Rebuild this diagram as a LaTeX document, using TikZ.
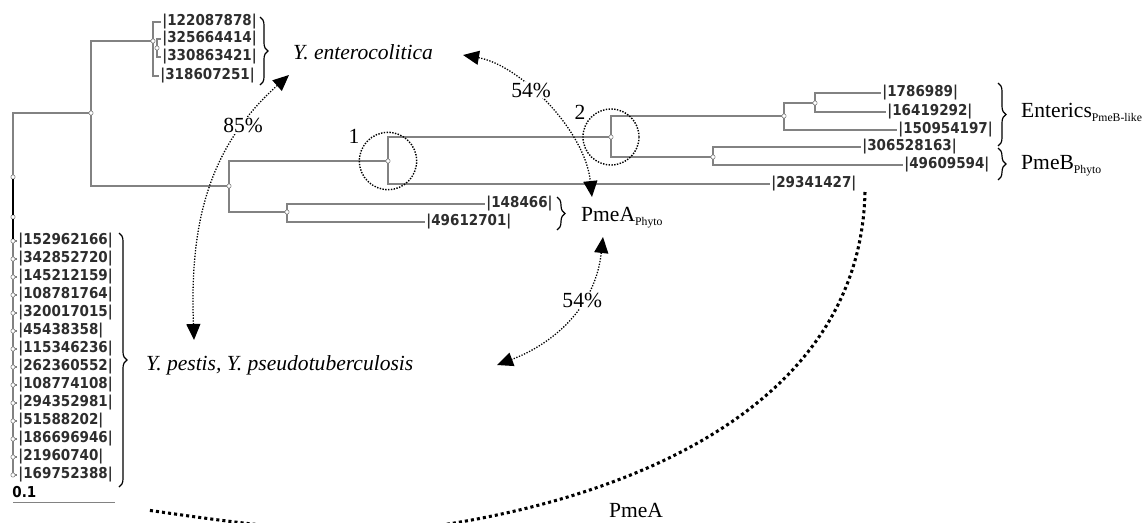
\documentclass[tikz,border=0pt]{standalone}
\usepackage{fontspec}
\setmainfont{Liberation Serif}
\newfontfamily\leaffont{DejaVu Sans}[FakeStretch=0.9]
\usetikzlibrary{arrows.meta, decorations.pathreplacing}
\definecolor{treegray}{RGB}{130, 130, 130}
\definecolor{leafgray}{RGB}{45, 45, 45}
\newcommand{\grpsub}[1]{\raisebox{-0.4ex}{\fontsize{10}{12}\selectfont #1}}

\begin{document}
\begin{tikzpicture}[
    x=0.03cm, y=-0.03cm,
    branch/.style={draw=treegray, line width=1.4pt},
    tip/.style={circle, draw=treegray, fill=white, line width=0.5pt,
                inner sep=0pt, minimum size=0.13cm},
    leaf/.style={anchor=west, inner sep=1pt, text=leafgray,
                 font=\leaffont\bfseries\fontsize{12.8}{14}\selectfont},
    taxon/.style={anchor=west, inner sep=0pt,
                  font=\fontsize{18.4}{22}\selectfont},
    pct/.style={fill=white, inner sep=1pt,
                font=\fontsize{18.4}{22}\selectfont},
    simarrow/.style={line width=1.1pt, dash pattern=on 1.1pt off 1.3pt,
        {Triangle[length=0.48cm, width=0.42cm]}-{Triangle[length=0.48cm, width=0.42cm]}},
    ring/.style={circle, draw, line width=1.2pt, dash pattern=on 1.2pt off 1.2pt,
                 minimum size=1.72cm, inner sep=0pt},
    grpbrace/.style={decorate, decoration={brace, amplitude=0.24cm},
                     line width=1pt},
    bigdots/.style={line width=2.6pt, dash pattern=on 2.6pt off 2.6pt},
]
\useasboundingbox (0,0) rectangle (1147,522);
\clip (0,0) rectangle (1147,522);

% -- Internal nodes --
\coordinate (root) at (13,113);
\coordinate (rootend) at (13,476);
\node[tip] (nA) at (91,113) {};
\node[tip] (nYe) at (153,41) {};
\node[tip] (nYe2) at (157,48) {};
\node[tip] (nB) at (229,186) {};
\node[tip] (n1) at (388,161) {};
\node[tip] (nPA) at (287,212) {};
\node[tip] (n2) at (611,137) {};
\node[tip] (nE) at (784,116) {};
\node[tip] (nE2) at (815,103) {};
\node[tip] (nPB) at (713,157) {};

% -- Leaves --
\node[leaf] (ye1) at (161,22) {|122087878|};
\node[leaf] (ye2) at (161,39) {|325664414|};
\node[leaf] (ye3) at (161,57) {|330863421|};
\node[leaf] (ye4) at (159,76) {|318607251|};
\node[leaf] (g1786989) at (881,93) {|1786989|};
\node[leaf] (g16419292) at (886,112) {|16419292|};
\node[leaf] (g150954197) at (897,130) {|150954197|};
\node[leaf] (g306528163) at (861,147) {|306528163|};
\node[leaf] (g49609594) at (903,165) {|49609594|};
\node[leaf] (g29341427) at (770,184) {|29341427|};
\node[leaf] (g148466) at (485,204) {|148466|};
\node[leaf] (g49612701) at (425,222) {|49612701|};

% -- Root and comb --
\draw[branch] (nA) -- (root) -- (rootend);
\node[tip] (r1) at (13,177) {};
\node[tip] (r2) at (13,217) {};
\foreach \id [count=\k] in {152962166, 342852720, 145212159, 108781764,
    320017015, 45438358, 115346236, 262360552, 108774108, 294352981,
    51588202, 186696946, 21960740, 169752388} {
  \node[tip] (c\k) at (13,{223+18*\k}) {};
  \node[leaf] (p\k) at (17,{223+18*\k}) {|\id|};
  \draw[branch] (c\k) -- (p\k.west);
}
\draw[line width=1.4pt] (r1) -- (r2) -- (c1);

% -- Branches --
\draw[branch] (nA) |- (nYe);
\draw[branch] (nA) |- (nB);
\draw[branch] (nYe) |- (ye1.west);
\draw[branch] (nYe) |- (ye4.west);
\draw[branch] (nYe2) |- (ye2.west);
\draw[branch] (nYe2) |- (ye3.west);
\draw[branch] (nB) |- (n1);
\draw[branch] (nB) |- (nPA);
\draw[branch] (n1) |- (n2);
\draw[branch] (n1) |- (g29341427.west);
\draw[branch] (n2) |- (nE);
\draw[branch] (n2) |- (nPB);
\draw[branch] (nE) |- (nE2);
\draw[branch] (nE) |- (g150954197.west);
\draw[branch] (nE2) |- (g1786989.west);
\draw[branch] (nE2) |- (g16419292.west);
\draw[branch] (nPB) |- (g306528163.west);
\draw[branch] (nPB) |- (g49609594.west);
\draw[branch] (nPA) |- (g148466.west);
\draw[branch] (nPA) |- (g49612701.west);

% -- Scale bar --
\coordinate (sb0) at (13,502);
\coordinate (sb1) at (115,502);
\draw[branch, line width=0.8pt] (sb0) -- (sb1);
\node[leaf, text=black] (scl) at (11,492) {0.1};

% -- Braces and group names --
\draw[grpbrace] (260,17) -- (260,85);
\draw[grpbrace] (998,83) -- (998,146);
\draw[grpbrace] (998,148) -- (998,180);
\draw[grpbrace] (557,197) -- (557,230);
\draw[grpbrace] (119,233) -- (119,487);
\node[taxon] (ye) at (293,52) {\itshape Y. enterocolitica};
\node[taxon] (yp) at (146,365) {\itshape Y. pestis, Y. pseudotuberculosis};
\node[taxon] (ent) at (1021,112) {Enterics\grpsub{PmeB-like}};
\node[taxon] (pmeb) at (1021,166) {PmeB\grpsub{Phyto}};
\node[taxon] (pmeap) at (581,218) {PmeA\grpsub{Phyto}};
\node[taxon, anchor=center] (pmea) at (636,510) {PmeA};

% -- Highlighted nodes --
\node[ring] (ring1) at (n1) {};
\node[ring, minimum size=1.68cm] (ring2) at (n2) {};
\node[taxon, anchor=center] (lab1) at (354,136) {1};
\node[taxon, anchor=center] (lab2) at (580,112) {2};

% -- Identity arrows --
\coordinate (e85a) at (289,75);
\coordinate (e85b) at (194,340);
\draw[simarrow] (e85a) .. controls (205,150) and (190,230)
    .. node[pct, pos=0.22] (p85) {85\%} (e85b);
\coordinate (e54a) at (463,55);
\coordinate (e54b) at (592,197);
\draw[simarrow] (e54a) .. controls (520,65) and (585,130)
    .. node[pct, pos=0.4] (p54a) {54\%} (e54b);
\coordinate (e54c) at (603,237);
\coordinate (e54d) at (497,365);
\draw[simarrow] (e54c) .. controls (595,310) and (550,345)
    .. node[pct, pos=0.35] (p54b) {54\%} (e54d);

% -- PmeA arc --
\coordinate (pmeaS) at (865,192);
\coordinate (pmeaE) at (147,510);
\draw[bigdots] (pmeaS) .. controls (860,420) and (600,505) .. (420,528)
    .. controls (340,538) and (230,522) .. (pmeaE);

\end{tikzpicture}
\end{document}
